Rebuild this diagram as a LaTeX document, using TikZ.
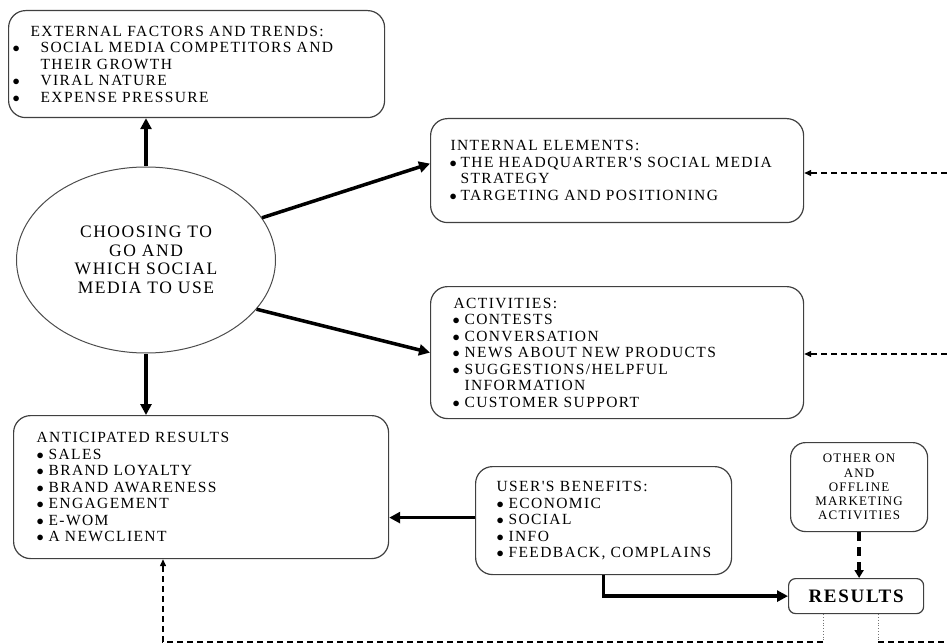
\documentclass[tikz,border=0pt]{standalone}
\usepackage{fontspec}
\setmainfont{Liberation Serif}
\newfontfamily\boxfont[LetterSpace=9]{Liberation Serif}
\usetikzlibrary{arrows.meta,shapes.geometric}
\newcommand{\bul}[2]{\makebox[#2pt][l]{\hspace{#1pt}$\bullet$}}
\tikzset{
  rbox/.style={draw=black!75,line width=1.2pt,rounded corners=17pt,align=left,anchor=north west,
    inner ysep=0pt,font=\boxfont\fontsize{15.5}{16.5}\selectfont},
  cbox/.style={draw=black!75,line width=1.2pt,rounded corners=15pt,align=center,anchor=north west,
    inner sep=0pt,font=\boxfont\fontsize{13}{14.2}\selectfont},
  thk/.style={line width=3.5pt,-{Triangle[length=11pt,width=11pt]}},
  fbk/.style={line width=1.3pt,dash pattern=on 6pt off 4pt,-{Triangle[length=7pt,width=6pt]}},
  fbl/.style={line width=1.3pt,dash pattern=on 6pt off 4pt},
  dotl/.style={draw=black!55,line width=0.8pt,dotted}
}
\begin{document}
\begin{tikzpicture}[x=1pt,y=-1pt]
  \useasboundingbox (0,0) rectangle (947,644);
  \node[rbox,inner xsep=4pt,text width=368pt,minimum height=107pt] (ext) at (8,10)
    {\hspace*{18pt}EXTERNAL FACTORS AND TRENDS:\\
     \bul{0}{28}SOCIAL MEDIA COMPETITORS AND\\
     \hspace*{28pt}THEIR GROWTH\\
     \bul{0}{28}VIRAL NATURE\\
     \bul{0}{28}EXPENSE PRESSURE};
  \node[ellipse,draw=black!70,line width=1pt,minimum width=259pt,minimum height=186pt,inner sep=0pt,
    align=center,font=\boxfont\fontsize{17.5}{18.5}\selectfont] (choose) at (146,260)
    {CHOOSING TO\\GO AND\\WHICH SOCIAL\\MEDIA TO USE};
  \node[rbox,inner xsep=20pt,text width=333pt,minimum height=104pt] (intl) at (430,118)
    {INTERNAL ELEMENTS:\\
     \bul{-1}{10}THE HEADQUARTER'S SOCIAL MEDIA\\
     \hspace*{10pt}STRATEGY\\
     \bul{-1}{10}TARGETING AND POSITIONING};
  \node[rbox,inner xsep=23pt,text width=327pt,minimum height=132pt] (act) at (430,286)
    {ACTIVITIES:\\
     \bul{-1}{11}CONTESTS\\
     \bul{-1}{11}CONVERSATION\\
     \bul{-1}{11}NEWS ABOUT NEW PRODUCTS\\
     \bul{-1}{11}SUGGESTIONS/HELPFUL\\
     \hspace*{11pt}INFORMATION\\
     \bul{-1}{11}CUSTOMER SUPPORT};
  \node[rbox,inner xsep=23pt,text width=329pt,minimum height=143pt] (antic) at (13,415)
    {ANTICIPATED RESULTS\\
     \bul{0}{12}SALES\\
     \bul{0}{12}BRAND LOYALTY\\
     \bul{0}{12}BRAND AWARENESS\\
     \bul{0}{12}ENGAGEMENT\\
     \bul{0}{12}E-WOM\\
     \bul{0}{12}A NEWCLIENT};
  \node[rbox,inner xsep=21pt,text width=214pt,minimum height=108pt] (benefit) at (475,466)
    {USER'S BENEFITS:\\
     \bul{0}{12}ECONOMIC\\
     \bul{0}{12}SOCIAL\\
     \bul{0}{12}INFO\\
     \bul{0}{12}FEEDBACK, COMPLAINS};
  \node[cbox,minimum width=137pt,minimum height=89pt] (other) at (790,442)
    {OTHER ON\\AND\\OFFLINE\\MARKETING\\ACTIVITIES};
  \node[cbox,rounded corners=7pt,minimum width=135pt,minimum height=35pt,
    font=\boxfont\fontsize{19}{20}\selectfont\bfseries] (results) at (788,578) {RESULTS};
  \coordinate (rin) at (947,173);
  \coordinate (ract) at (947,354);
  \coordinate (bl) at (823,642);
  \coordinate (br) at (878,642);
  \coordinate (redge) at (947,642);
  \coordinate (fb) at (163,642);
  \draw[thk] (choose.north) -- (choose.north |- ext.south);
  \draw[thk] (choose.20) -- ([yshift=7pt]intl.west);
  \draw[thk] (choose.336) -- (act.west);
  \draw[thk] (choose.south) -- (choose.south |- antic.north);
  \draw[thk] ([yshift=3pt]benefit.west) -- ([yshift=3pt]benefit.west -| antic.east);
  \draw[thk] (benefit.south) |- (results.west);
  \draw[line width=3.5pt,dash pattern=on 9pt off 6pt,-{Triangle[length=8pt,width=9pt]}]
    (other.south) -- (other.south |- results.north);
  \draw[fbk] (rin) -- (rin -| intl.east);
  \draw[fbk] (ract) -- (ract -| act.east);
  \draw[dotl] (results.south -| bl) -- (bl);
  \draw[dotl] (results.south -| br) -- (br);
  \draw[fbk] (bl) -- (fb) -- (fb |- antic.south);
  \draw[fbl] (br) -- (redge);
\end{tikzpicture}
\end{document}
